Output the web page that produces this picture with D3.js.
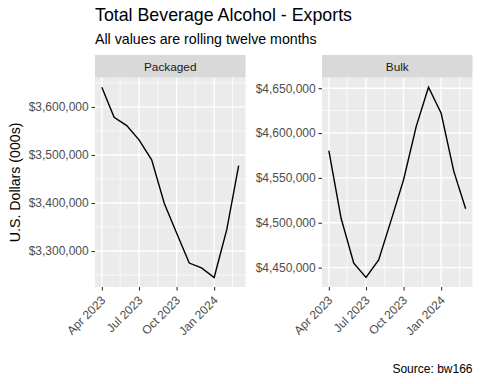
<!DOCTYPE html>
<html>
<head>
<meta charset="utf-8">
<script src="https://cdn.jsdelivr.net/npm/d3@7"></script>
<style>
  body { margin: 0; background: #fff; }
  svg { display: block; font-family: "Liberation Sans", Arial, sans-serif; }
</style>
</head>
<body>
<div id="chart"></div>
<script>
// rolling twelve month values, U.S. dollars (000s)
const months = ["2023-04", "2023-05", "2023-06", "2023-07", "2023-08", "2023-09",
                "2023-10", "2023-11", "2023-12", "2024-01", "2024-02", "2024-03"];
const packaged = [3641000, 3578500, 3561000, 3531500, 3490000, 3399000,
                  3337500, 3275000, 3265000, 3245000, 3345000, 3478000];
const bulk = [4580500, 4505000, 4455000, 4439000, 4458600, 4503500,
              4548000, 4607400, 4651100, 4622000, 4557300, 4515700];
const xTicks = ["2023-04", "2023-07", "2023-10", "2024-01"];
const xMinor = ["2023-02-14", "2023-05-16", "2023-08-16", "2023-11-16", "2024-02-15"];
const facets = [
  { name: "Packaged", values: packaged, ticks: [3300000, 3400000, 3500000, 3600000] },
  { name: "Bulk", values: bulk, ticks: [4450000, 4500000, 4550000, 4600000, 4650000] }
];

const width = 480, height = 384;
const parse = d3.utcParse("%Y-%m");
const parseDay = d3.utcParse("%Y-%m-%d");
const dates = months.map(parse);

const svg = d3.select("#chart").append("svg")
  .attr("width", width)
  .attr("height", height);

const panelTop = 77.7, panelBottom = 287, panelW = 150.5;
const stripTop = 55;
const lefts = [95, 322];
const tickFont = 12;

const fmt = d3.format("$,.0f");

// helper to pad a domain like ggplot (5% each side)
const expand = (ext) => {
  const pad = (ext[1] - ext[0]) * 0.05;
  return [ext[0] - pad, ext[1] + pad];
};

const xExt = d3.extent(dates);
const xPad = (xExt[1] - xExt[0]) * 0.05;

facets.forEach((f, i) => {
  const left = lefts[i];
  const x = d3.scaleUtc()
    .domain([new Date(+xExt[0] - xPad), new Date(+xExt[1] + xPad)])
    .range([left, left + panelW]);
  const y = d3.scaleLinear()
    .domain(expand(d3.extent(f.values)))
    .range([panelBottom, panelTop]);

  const g = svg.append("g");

  // strip
  g.append("rect")
    .attr("x", left).attr("y", stripTop)
    .attr("width", panelW).attr("height", panelTop - stripTop)
    .attr("fill", "#d9d9d9");
  g.append("text")
    .attr("x", left + panelW / 2).attr("y", (stripTop + panelTop) / 2 + 4.2)
    .attr("text-anchor", "middle")
    .attr("font-size", 11.8)
    .attr("fill", "#1a1a1a")
    .text(f.name);

  // panel background
  g.append("rect")
    .attr("x", left).attr("y", panelTop)
    .attr("width", panelW).attr("height", panelBottom - panelTop)
    .attr("fill", "#ebebeb");

  const [y0, y1] = y.domain();
  const step = f.ticks[1] - f.ticks[0];
  const yMinor = d3.range(f.ticks[0] - step / 2, f.ticks[f.ticks.length - 1] + step, step)
    .filter(v => v > y0 && v < y1);

  // minor grid
  g.selectAll(".ymin").data(yMinor).enter().append("line")
    .attr("x1", left).attr("x2", left + panelW)
    .attr("y1", d => y(d)).attr("y2", d => y(d))
    .attr("stroke", "#fff").attr("stroke-width", 0.7);
  g.selectAll(".xmin").data(xMinor.map(parseDay).filter(d => x(d) > left && x(d) < left + panelW))
    .enter().append("line")
    .attr("x1", d => x(d)).attr("x2", d => x(d))
    .attr("y1", panelTop).attr("y2", panelBottom)
    .attr("stroke", "#fff").attr("stroke-width", 0.7);

  // major grid
  g.selectAll(".ymaj").data(f.ticks).enter().append("line")
    .attr("x1", left).attr("x2", left + panelW)
    .attr("y1", d => y(d)).attr("y2", d => y(d))
    .attr("stroke", "#fff").attr("stroke-width", 1.4);
  g.selectAll(".xmaj").data(xTicks.map(parse)).enter().append("line")
    .attr("x1", d => x(d)).attr("x2", d => x(d))
    .attr("y1", panelTop).attr("y2", panelBottom)
    .attr("stroke", "#fff").attr("stroke-width", 1.4);

  // y axis
  const yAxis = g.append("g")
    .attr("transform", `translate(${left},0)`)
    .call(d3.axisLeft(y).tickValues(f.ticks).tickFormat(fmt).tickSize(3.5).tickPadding(2.8));
  yAxis.select(".domain").remove();
  yAxis.selectAll("line").attr("stroke", "#333").attr("stroke-width", 1.1);
  yAxis.selectAll("text").attr("fill", "#4d4d4d").attr("font-size", tickFont)
    .attr("font-family", "Liberation Sans, Arial, sans-serif");

  // x axis
  const xAxis = g.append("g")
    .attr("transform", `translate(0,${panelBottom})`)
    .call(d3.axisBottom(x).tickValues(xTicks.map(parse)).tickFormat(d3.utcFormat("%b %Y")).tickSize(3.5));
  xAxis.select(".domain").remove();
  xAxis.selectAll("line").attr("stroke", "#333").attr("stroke-width", 1.1);
  xAxis.selectAll("text")
    .attr("fill", "#4d4d4d").attr("font-size", tickFont)
    .attr("font-family", "Liberation Sans, Arial, sans-serif")
    .attr("text-anchor", "end")
    .attr("dy", null)
    .attr("y", 0)
    .attr("transform", "translate(4,14) rotate(-45)");

  // data line
  const line = d3.line()
    .x((d, j) => x(dates[j]))
    .y(d => y(d));
  g.append("path")
    .datum(f.values)
    .attr("d", line)
    .attr("fill", "none")
    .attr("stroke", "#000")
    .attr("stroke-width", 1.4);
});

// titles
svg.append("text")
  .attr("x", 95).attr("y", 21)
  .attr("font-size", 17.8)
  .attr("fill", "#000")
  .text("Total Beverage Alcohol - Exports");
svg.append("text")
  .attr("x", 95).attr("y", 43.5)
  .attr("font-size", 14.2)
  .attr("fill", "#000")
  .text("All values are rolling twelve months");

svg.append("text")
  .attr("transform", `translate(20,${(panelTop + panelBottom) / 2}) rotate(-90)`)
  .attr("text-anchor", "middle")
  .attr("font-size", 14.2)
  .attr("fill", "#000")
  .text("U.S. Dollars (000s)");

svg.append("text")
  .attr("x", 472.5).attr("y", 373)
  .attr("text-anchor", "end")
  .attr("font-size", 12)
  .attr("fill", "#000")
  .text("Source: bw166");
</script>
</body>
</html>
